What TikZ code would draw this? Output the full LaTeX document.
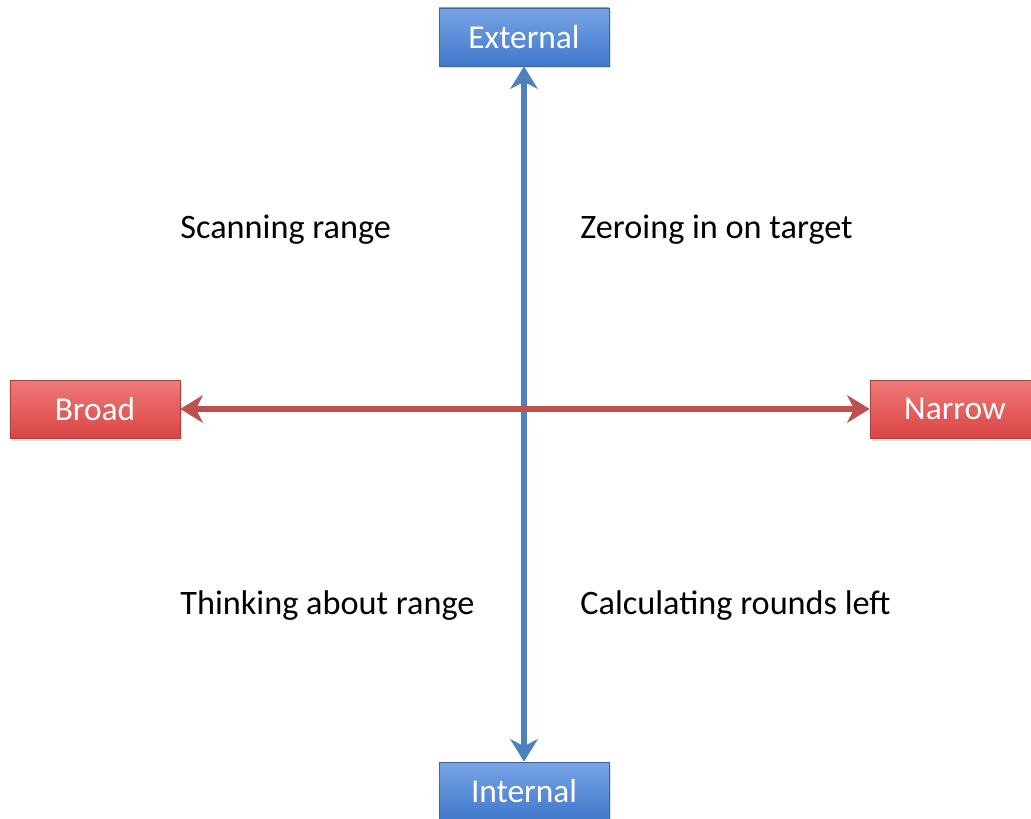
\documentclass[tikz,border=0pt]{standalone}
\usepackage{fontspec}
\setmainfont{Carlito}
\definecolor{boxblue}{HTML}{4F81BD}
\definecolor{boxbluetop}{HTML}{78A4E4}
\definecolor{boxbluebot}{HTML}{3F78CC}
\definecolor{boxred}{HTML}{C0504D}
\definecolor{boxredtop}{HTML}{EE7A78}
\definecolor{boxredbot}{HTML}{DA4544}
\usetikzlibrary{arrows.meta, shadows, positioning}

\tikzset{
  bluebox/.style = {rectangle, draw = boxblue!80!black, top color = boxbluetop, bottom color = boxbluebot, text = white, minimum width = 3.4cm, minimum height = 1.16cm, font = \fontsize{19}{22}\selectfont, drop shadow = {opacity = 0.25, shadow xshift = 0.04cm, shadow yshift = -0.05cm}},
  redbox/.style = {bluebox, draw = boxred!85!black, top color = boxredtop, bottom color = boxredbot},
  quadtext/.style = {anchor = west, inner sep = 0pt, font = \fontsize{19.5}{22}\selectfont},
  axisarrow/.style = {line width = 3.2pt, {Stealth[length = 0.45cm, width = 0.55cm, inset = 0.14cm]}-{Stealth[length = 0.45cm, width = 0.55cm, inset = 0.14cm]}}
}

\begin{document}
\begin{tikzpicture}
\useasboundingbox (0,0) rectangle (20.62,16.36);
\fill[white] (0,0) rectangle (20.62,16.36);

% axes ends
\node[bluebox] (ext) at (10.48,15.62) {External};
\node[bluebox] (int) at (10.48,0.54) {Internal};
\node[redbox] (broad) at (1.9,8.18) {Broad};
\node[redbox] (narrow) at (19.1,8.18) {Narrow};

% arrows
\draw[axisarrow, draw = boxblue] (ext.south) -- (int.north);
\draw[axisarrow, draw = boxred] (broad.east) -- (narrow.west);

% quadrants
\node[quadtext] (scan) at (3.6,11.76) {Scanning range};
\node[quadtext] (zero) at (11.6,11.76) {Zeroing in on target};
\node[quadtext] (think) at (3.6,4.24) {Thinking about range};
\node[quadtext] (calc) at (11.6,4.24) {Calculating rounds left};
\end{tikzpicture}
\end{document}
